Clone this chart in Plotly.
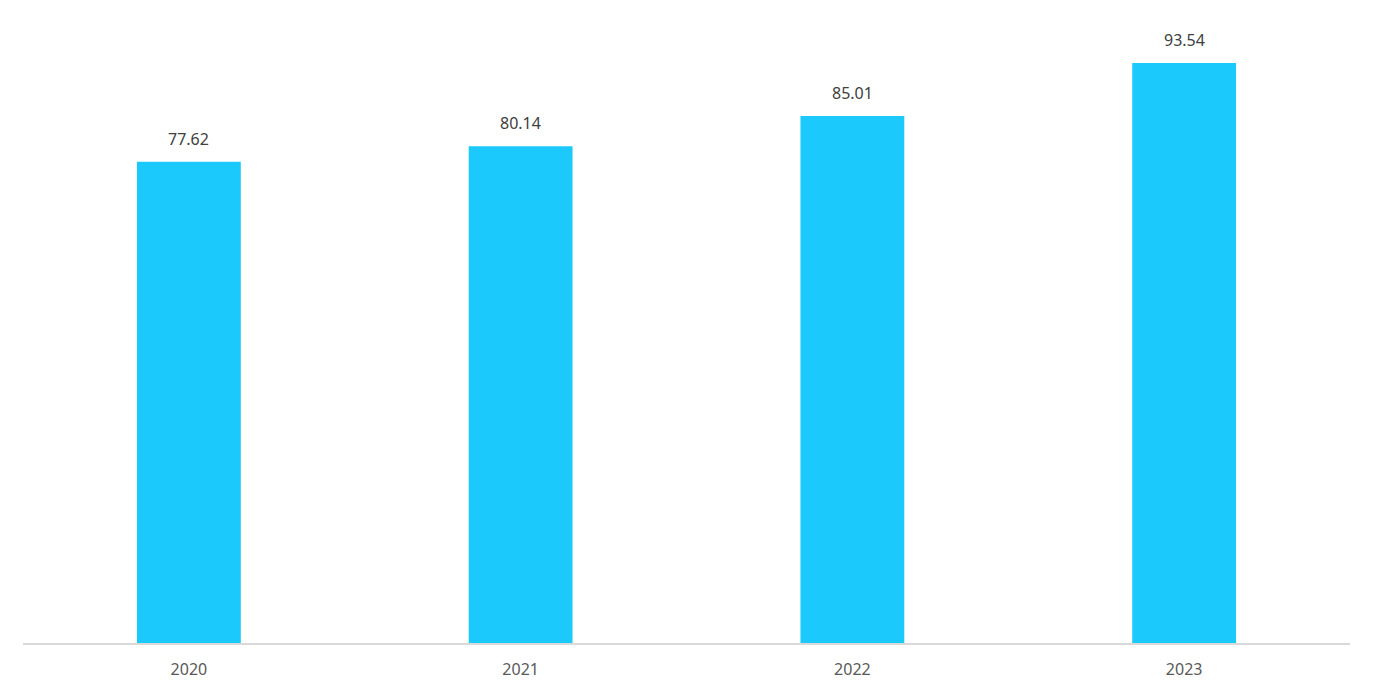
import plotly.graph_objects as go

years = ["2020", "2021", "2022", "2023"]
values = [77.62, 80.14, 85.01, 93.54]
labels = ["77.62", "80.14", "85.01", "93.54"]

fig = go.Figure(go.Bar(
    x=years, y=values,
    marker=dict(color="#1CC9FC", line=dict(width=0)),
    width=0.313, hoverinfo="x+y",
))
# category axis: annotation x given as category index (number-like strings would be read as indices)
for i, (v, lab) in enumerate(zip(values, labels)):
    fig.add_annotation(x=i, y=v, text=lab, showarrow=False,
                       yanchor="middle", yshift=23,
                       font=dict(family="Noto Sans, Open Sans, sans-serif", size=16, color="#404040"))
fig.update_layout(
    width=1374, height=695,
    margin=dict(l=15, r=32, t=15, b=60),
    paper_bgcolor="white", plot_bgcolor="white",
    showlegend=False,
    font=dict(family="Noto Sans, Open Sans, sans-serif"),
)
fig.update_xaxes(type="category", showline=True, linecolor="#d9d9d9", linewidth=2, showgrid=False,
                 ticks="outside", ticklen=11, tickcolor="rgba(0,0,0,0)",
                 tickfont=dict(size=16, color="#595959"))
fig.update_yaxes(range=[0, 100], visible=False, showgrid=False)
fig.write_html("out.html")
